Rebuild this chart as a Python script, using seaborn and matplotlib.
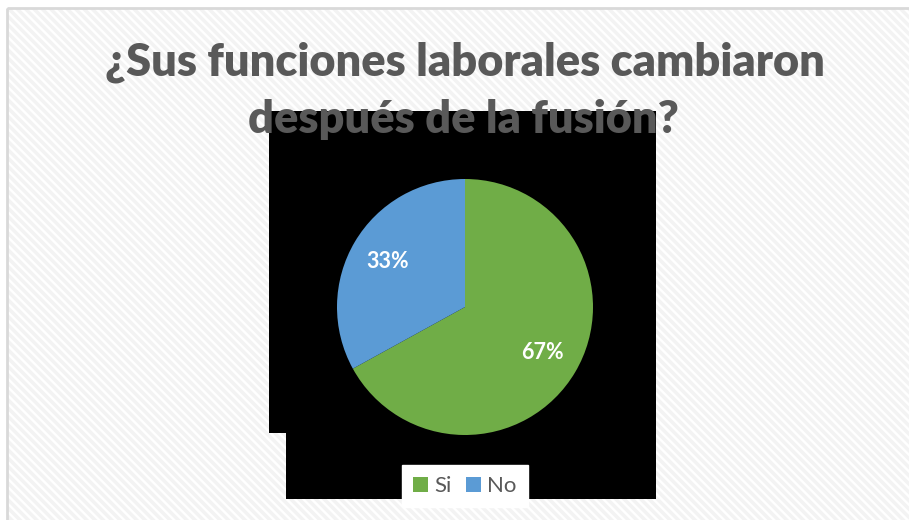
import matplotlib
matplotlib.use("Agg")
import matplotlib.pyplot as plt
import seaborn as sns
from matplotlib.patches import Rectangle, Patch

# Chart data
categories = ["Si", "No"]
values = [67, 33]
title_lines = ["¿Sus funciones laborales cambiaron", "después de la fusión?"]

colors = ["#70AD47", "#5B9BD5"]
text_gray = "#595959"

sns.set_style("white")
plt.rcParams['font.family'] = ['Lato', 'DejaVu Sans']
plt.rcParams['hatch.linewidth'] = 2.5

W, H = 909, 520
fig = plt.figure(figsize=(W / 100, H / 100), dpi=100)

# Background canvas in pixel coordinates
bg = fig.add_axes([0, 0, 1, 1])
bg.set_xlim(0, W)
bg.set_ylim(H, 0)
bg.axis("off")
bg.add_patch(Rectangle((7, 8), 1000, 1000, facecolor="white", edgecolor="#F3F3F3",
                       linewidth=0, hatch="\\\\\\\\"))
bg.add_patch(Rectangle((7, 8), 1000, 1000, facecolor="none", edgecolor="#D9D9D9",
                       linewidth=2))
# Black plot area
bg.add_patch(Rectangle((269, 111), 387, 322, facecolor="black", edgecolor="none"))
bg.add_patch(Rectangle((286, 433), 370, 66, facecolor="black", edgecolor="none"))

# Title
bg.text(465, 62, title_lines[0], ha="center", va="center", fontsize=32.5,
        fontweight="heavy", color=text_gray, zorder=5)
bg.text(463, 119, title_lines[1], ha="center", va="center", fontsize=32.5,
        fontweight="heavy", color=text_gray, zorder=5)

# Pie
cx, cy, r = 465, 307, 128
ax = fig.add_axes([(cx - r) / W, (H - cy - r) / H, 2 * r / W, 2 * r / H])
wedges, texts, autotexts = ax.pie(values, colors=colors, startangle=90, counterclock=False,
                                  autopct='%1.0f%%', pctdistance=0.7,
                                  wedgeprops=dict(linewidth=0))
for t in autotexts:
    t.set_color("white")
    t.set_fontsize(15.5)
    t.set_fontweight("bold")
ax.set_xlim(-1, 1)
ax.set_ylim(-1, 1)
ax.axis("off")

# Legend
handles = [Patch(facecolor=c, edgecolor="none") for c in colors]
leg = fig.legend(handles, categories, loc="center", bbox_to_anchor=(465 / W, (H - 486) / H),
                 ncol=2, frameon=True, fontsize=16, handlelength=0.65, handleheight=0.65,
                 handletextpad=0.3, columnspacing=0.65, borderpad=0.5, borderaxespad=0,
                 fancybox=False, framealpha=1)
leg.get_frame().set_facecolor("white")
leg.get_frame().set_edgecolor("white")
for t in leg.get_texts():
    t.set_color(text_gray)

fig.savefig("out.png", dpi=100)
